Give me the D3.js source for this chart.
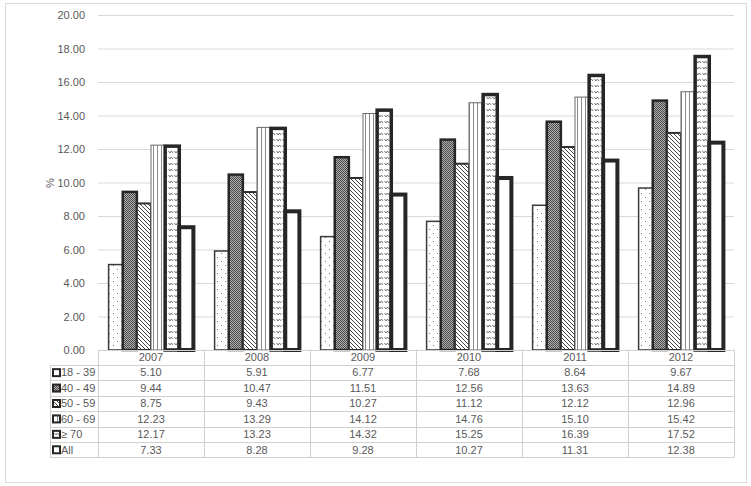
<!DOCTYPE html>
<html>
<head>
<meta charset="utf-8">
<script src="https://cdn.jsdelivr.net/npm/d3@7"></script>
<style>
  html, body { margin: 0; padding: 0; background: #fff; }
  svg { display: block; font-family: "Liberation Sans", Arial, sans-serif; }
</style>
</head>
<body>
<svg id="chart" width="751" height="486"></svg>
<script>
const years = ["2007", "2008", "2009", "2010", "2011", "2012"];
const seriesNames = ["18 - 39", "40 - 49", "50 - 59", "60 - 69", "\u2265 70", "All"];
const v18_39 = [5.10, 5.91, 6.77, 7.68, 8.64, 9.67];
const v40_49 = [9.44, 10.47, 11.51, 12.56, 13.63, 14.89];
const v50_59 = [8.75, 9.43, 10.27, 11.12, 12.12, 12.96];
const v60_69 = [12.23, 13.29, 14.12, 14.76, 15.10, 15.42];
const v70 = [12.17, 13.23, 14.32, 15.25, 16.39, 17.52];
const vAll = [7.33, 8.28, 9.28, 10.27, 11.31, 12.38];
const yTicks = [0, 2, 4, 6, 8, 10, 12, 14, 16, 18, 20];
const yLabel = "%";

const seriesValues = [v18_39, v40_49, v50_59, v60_69, v70, vAll];

const svg = d3.select("#chart");
const defs = svg.append("defs");

// Patterns
function pat(id, w, h, build) {
  const p = defs.append("pattern").attr("id", id).attr("patternUnits", "userSpaceOnUse")
    .attr("width", w).attr("height", h);
  p.append("rect").attr("width", w).attr("height", h).attr("fill", "#fff");
  build(p);
}
pat("p-dots", 8, 8, p => {
  p.append("rect").attr("x", 1).attr("y", 1).attr("width", 1).attr("height", 1).attr("fill", "#777");
  p.append("rect").attr("x", 5).attr("y", 5).attr("width", 1).attr("height", 1).attr("fill", "#777");
});
pat("p-check", 2, 2, p => {
  p.select("rect").attr("fill", "#b0b0b0");
  p.append("rect").attr("x", 0).attr("y", 0).attr("width", 1).attr("height", 1).attr("fill", "#4a4a4a");
  p.append("rect").attr("x", 1).attr("y", 1).attr("width", 1).attr("height", 1).attr("fill", "#4a4a4a");
});
pat("p-diag", 4, 4, p => {
  p.append("path").attr("d", "M-1,-1 L5,5 M-1,3 L1,5 M3,-1 L5,1")
    .attr("stroke", "#444").attr("stroke-width", 1);
});
pat("p-vert", 4, 4, p => {
  p.append("rect").attr("x", 1).attr("y", 0).attr("width", 1).attr("height", 4).attr("fill", "#8a8a8a");
});
pat("p-wave", 6, 6, p => {
  p.append("path").attr("d", "M0.5,1 L2,3 L3.5,1 L5,3")
    .attr("stroke", "#555").attr("stroke-width", 0.8).attr("fill", "none");
});

const fills = ["url(#p-dots)", "url(#p-check)", "url(#p-diag)", "url(#p-vert)", "url(#p-wave)", "#ffffff"];
const strokes = ["#3a3a3a", "#262626", "#2e2e2e", "#6a6a6a", "#262626", "#262626"];
const strokeW = [1.5, 2.5, 2, 1, 3.5, 4];

// Outer frame
svg.append("rect").attr("x", 5.5).attr("y", 3.5).attr("width", 741).attr("height", 479)
  .attr("fill", "none").attr("stroke", "#d9d9d9").attr("stroke-width", 1);

const x0 = d3.scaleBand().domain(years).range([98, 734]).paddingInner(0).paddingOuter(0);
const x1 = d3.scaleBand().domain(seriesNames).range([0, x0.bandwidth()]).paddingInner(0).paddingOuter(0.75);
const y = d3.scaleLinear().domain([0, 20]).range([350, 15]);

// Gridlines
const grid = svg.append("g").attr("transform", "translate(98,0)")
  .call(d3.axisLeft(y).tickValues(yTicks).tickSize(-636).tickFormat(""));
grid.select(".domain").remove();
grid.selectAll("line").attr("stroke", "#d9d9d9").attr("stroke-width", 1);

// Y axis labels
const yAxis = svg.append("g").attr("transform", "translate(98,0)")
  .call(d3.axisLeft(y).tickValues(yTicks).tickSize(0).tickPadding(13).tickFormat(d3.format(".2f")));
yAxis.select(".domain").remove();
yAxis.selectAll("text").attr("fill", "#595959").style("font-size", "11px")
  .style("font-family", "'Liberation Sans', Arial, sans-serif");

svg.append("text").attr("transform", "translate(50,183) rotate(-90)")
  .attr("text-anchor", "middle").attr("dy", "0.35em")
  .attr("fill", "#595959").style("font-size", "11px").text(yLabel);

// Bars
seriesNames.forEach((s, si) => {
  svg.append("g").selectAll("rect").data(years.map((yr, i) => ({ yr, v: seriesValues[si][i] })))
    .join("rect")
    .attr("x", d => x0(d.yr) + x1(s))
    .attr("y", d => y(d.v))
    .attr("width", x1.bandwidth())
    .attr("height", d => y(0) - y(d.v))
    .attr("fill", fills[si])
    .attr("stroke", strokes[si])
    .attr("stroke-width", strokeW[si]);
});

// Data table
const rowKeys = ["header"].concat(seriesNames);
const ry = d3.scaleBand().domain(rowKeys).range([349.5, 457.5]);
const tbl = svg.append("g");
const lineColor = "#d0d0d0";
const txtColor = "#595959";
rowKeys.forEach((k, i) => {
  const yy = Math.round(ry(k)) + 0.5;
  tbl.append("line").attr("x1", i === 0 ? 98 : 50).attr("x2", 734)
    .attr("y1", yy).attr("y2", yy).attr("stroke", lineColor);
});
tbl.append("line").attr("x1", 50).attr("x2", 734)
  .attr("y1", 457.5).attr("y2", 457.5).attr("stroke", lineColor);
tbl.append("line").attr("x1", 50.5).attr("x2", 50.5).attr("y1", ry(seriesNames[0])).attr("y2", 457.5).attr("stroke", lineColor);
years.forEach(yr => {
  const xx = Math.round(x0(yr)) + 0.5;
  tbl.append("line").attr("x1", xx).attr("x2", xx).attr("y1", 349.5).attr("y2", 457.5).attr("stroke", lineColor);
});
tbl.append("line").attr("x1", 734.5).attr("x2", 734.5).attr("y1", 349.5).attr("y2", 457.5).attr("stroke", lineColor);

years.forEach(yr => {
  tbl.append("text").attr("x", x0(yr) + x0.bandwidth() / 2).attr("y", ry("header") + ry.bandwidth() / 2)
    .attr("dy", "0.35em").attr("text-anchor", "middle").attr("fill", txtColor)
    .style("font-size", "11px").text(yr);
});
seriesNames.forEach((s, si) => {
  const cy = ry(s) + ry.bandwidth() / 2;
  tbl.append("rect").attr("x", 53).attr("y", cy - 3.5).attr("width", 7).attr("height", 7)
    .attr("fill", fills[si]).attr("stroke", "#262626").attr("stroke-width", 2);
  tbl.append("text").attr("x", 61).attr("y", cy).attr("dy", "0.35em")
    .attr("fill", txtColor).style("font-size", "11px").text(s);
  years.forEach((yr, i) => {
    tbl.append("text").attr("x", x0(yr) + x0.bandwidth() / 2).attr("y", cy).attr("dy", "0.35em")
      .attr("text-anchor", "middle").attr("fill", txtColor).style("font-size", "11px")
      .text(seriesValues[si][i].toFixed(2));
  });
});
</script>
</body>
</html>
